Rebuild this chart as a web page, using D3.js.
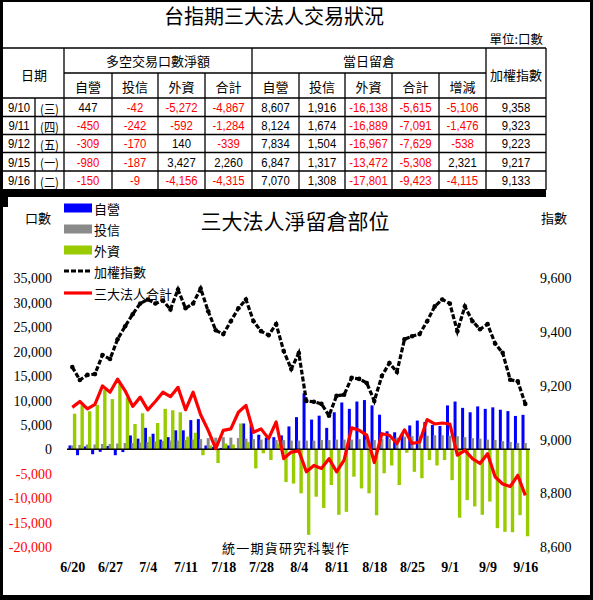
<!DOCTYPE html>
<html><head><meta charset="utf-8">
<script src="https://cdn.jsdelivr.net/npm/d3@7"></script>
<style>body{margin:0;background:#fff}svg{display:block}</style>
</head><body>
<svg id="c" width="593" height="600"></svg>
<script>
// ---------- DATA ----------
const dates = ["6/20","6/23","6/24","6/25","6/26","6/27","6/30","7/1","7/2","7/3","7/4","7/7","7/8","7/9","7/10","7/11","7/14","7/15","7/16","7/17","7/18","7/21","7/22","7/24","7/25","7/28","7/29","7/30","7/31","8/1","8/4","8/5","8/6","8/7","8/8","8/11","8/12","8/13","8/14","8/15","8/18","8/19","8/20","8/21","8/22","8/25","8/26","8/27","8/28","8/29","9/1","9/2","9/3","9/4","9/5","9/9","9/10","9/11","9/12","9/15","9/16"];
const tickLabels = ["6/20","6/27","7/4","7/11","7/18","7/28","8/4","8/11","8/18","8/25","9/1","9/9","9/16"];
// 自營
const dealer = [800,-1200,600,-1000,-500,700,-1200,-550,2850,2200,4400,3200,2000,2500,3900,3900,6000,6200,800,500,300,800,200,5300,5000,3000,2400,2500,2850,4700,6600,11500,6100,6900,4400,7600,9600,8300,9800,10100,9000,7100,3700,3500,3200,4900,5900,5600,5000,4800,9000,9800,8500,7600,8800,8300,8607,8124,7834,6847,7070];
// 投信
const trust = [800,900,1000,1000,1100,1100,1200,1300,1300,1400,1500,1600,1700,1800,1800,1900,2000,2100,2300,2400,2500,2400,2300,2200,2100,2000,2000,1900,1900,1800,1800,1800,1800,1900,1900,2000,2000,2000,2100,2000,1900,2100,2200,2400,2600,2700,2800,2800,2900,2900,2800,2700,2500,2300,2200,2000,1916,1674,1504,1317,1308];
// 外資
const foreign = [7300,9000,7800,9100,12200,10300,13500,10600,5200,7400,2600,5400,8300,8000,7600,2600,3400,-1200,800,-2800,1200,1000,5300,1500,-3900,-800,-2200,1200,-6700,-7000,-9000,-17500,-9700,-12000,-7300,-13400,-12800,-5600,-8000,-9000,-13500,-4900,-3300,-7300,-700,-4600,-5900,-2200,-3300,-2200,-6300,-14000,-10400,-11700,-13400,-10700,-16138,-16889,-16967,-13472,-17801];
// 三大法人合計
const total = [8600,9800,8300,9200,13000,11700,14400,12000,8800,10700,8100,9800,11700,10800,12700,8100,11700,7100,3900,150,3900,4200,7600,9000,3500,4200,2200,5600,-1900,-550,-300,-4600,-3300,-3900,-1900,-4600,-2200,4400,3900,2900,-2700,3200,2900,1200,4000,1200,1500,6100,5200,5400,5200,-1200,-200,-1900,-2900,-900,-5615,-7091,-7629,-5308,-9423];
// 加權指數
const taiex = [9270,9222,9241,9244,9315,9300,9374,9422,9467,9507,9522,9507,9518,9485,9559,9489,9507,9563,9478,9407,9393,9441,9489,9522,9441,9404,9389,9430,9330,9263,9322,9144,9141,9133,9089,9163,9167,9230,9226,9211,9144,9237,9285,9252,9374,9385,9393,9441,9496,9522,9507,9404,9496,9441,9411,9430,9358,9323,9223,9217,9133];
const leftTicks = [35000,30000,25000,20000,15000,10000,5000,0,-5000,-10000,-15000,-20000];
const rightTicks = [9600,9400,9200,9000,8800,8600];

// table
const tDates = ["9/10","9/11","9/12","9/15","9/16"];
const tWeek = ["(三)","(四)","(五)","(一)","(二)"];
const netDealer = [447,-450,-309,-980,-150];
const netTrust = [-42,-242,-170,-187,-9];
const netForeign = [-5272,-592,140,3427,-4156];
const netTotal = [-4867,-1284,-339,2260,-4315];
const oiDealer = [8607,8124,7834,6847,7070];
const oiTrust = [1916,1674,1504,1317,1308];
const oiForeign = [-16138,-16889,-16967,-13472,-17801];
const oiTotal = [-5615,-7091,-7629,-5308,-9423];
const oiChange = [-5106,-1476,-538,2321,-4115];
const tIndex = [9358,9323,9223,9217,9133];
const subHeads = ["自營","投信","外資","合計","自營","投信","外資","合計","增減"];

// ---------- DRAW ----------
const svg = d3.select("#c");
const CJK = "'Noto Sans CJK TC','Noto Sans CJK SC',sans-serif";
const NUM = "'Liberation Sans','Arial',sans-serif";
const SERIF = "'Liberation Serif','Times New Roman',serif";
const fmt = d => d3.format(",")(d).replace("\u2212","-");

svg.append("rect").attr("width",593).attr("height",600).attr("fill","#fff");

// ---- table ----
const T = svg.append("g");
T.append("text").attr("x",274).attr("y",24).attr("text-anchor","middle")
  .attr("font-family",CJK).attr("font-size",20).text("台指期三大法人交易狀況");
T.append("text").attr("x",543).attr("y",44).attr("text-anchor","end")
  .attr("font-family",CJK).attr("font-size",12.5).text("單位:口數");

const cx = [3,35,64,112,158,205,252,299,345,392,439,486,546];
const ry = [98,116.5,134.5,152.5,171,189.5];
const line = (x1,y1,x2,y2,w=1.3) => T.append("line").attr("x1",x1).attr("y1",y1).attr("x2",x2).attr("y2",y2)
  .attr("stroke","#000").attr("stroke-width",w);
line(3,48,546,48);
line(64,73,486,73);
line(3,98,546,98);
ry.slice(1,-1).forEach(y=>line(3,y,546,y));
[64,252,486,546].forEach(x=>line(x,48,x,190));
[112,158,205,299,345,392,439].forEach(x=>line(x,73,x,190));
line(35,98,35,190);

const ht = (x,y,t) => T.append("text").attr("x",x).attr("y",y).attr("text-anchor","middle")
  .attr("dominant-baseline","central").attr("font-family",CJK).attr("font-size",13).text(t);
ht(34,74,"日期");
ht(158,60,"多空交易口數淨額");
ht(369,60,"當日留倉");
ht(516,74,"加權指數");
subHeads.forEach((h,i)=>ht((cx[i+2]+cx[i+3])/2,86,h));

const numText = (xp,yp,t,color) => T.append("g").attr("transform",`translate(${xp},${yp}) scale(0.84,1)`)
  .append("text").attr("text-anchor","middle").attr("dominant-baseline","central")
  .attr("font-family",NUM).attr("font-size",13.5).attr("fill",color).text(t);

const cols = [netDealer,netTrust,netForeign,netTotal,oiDealer,oiTrust,oiForeign,oiTotal,oiChange,tIndex];
tDates.forEach((d,r)=>{
  const yc = (ry[r]+ry[r+1])/2 + 0.5;
  numText(19,yc,d,"#000");
  T.append("g").attr("transform",`translate(49.5,${yc}) scale(0.9,1)`).append("text")
    .attr("text-anchor","middle").attr("dominant-baseline","central")
    .attr("font-family",CJK).attr("font-size",12.5).text(tWeek[r]);
  cols.forEach((arr,c)=>{
    const v = arr[r];
    numText((cx[c+2]+cx[c+3])/2, yc, fmt(v), v<0 ? "#ff0000" : "#000");
  });
});

// ---- chart ----
const x = d3.scalePoint().domain(dates).range([72.3,525.3]);
const yL = d3.scaleLinear().domain([-20000,35000]).range([547,278.5]);
const yR = d3.scaleLinear().domain([8600,9600]).range([547,278.5]);
const C = svg.append("g");

C.append("text").attr("x",295).attr("y",229).attr("text-anchor","middle")
  .attr("font-family",CJK).attr("font-size",21).text("三大法人淨留倉部位");
C.append("text").attr("x",38).attr("y",223).attr("text-anchor","middle")
  .attr("font-family",CJK).attr("font-size",13).text("口數");
C.append("text").attr("x",554).attr("y",223).attr("text-anchor","middle")
  .attr("font-family",CJK).attr("font-size",13).text("指數");
C.append("text").attr("x",286).attr("y",553).attr("text-anchor","middle")
  .attr("font-family",CJK).attr("font-size",13).attr("letter-spacing",1.2).text("統一期貨研究科製作");

// bars
const series = [
  {vals:dealer, color:"#0000ff", off:-2.3, w:3},
  {vals:trust, color:"#8a8a8a", off:0, w:3},
  {vals:foreign, color:"#99cc00", off:2.3, w:3.4}
];
series.forEach(s=>{
  C.append("g").selectAll("rect").data(dates).join("rect")
    .attr("x",(d)=>x(d)+s.off-s.w/2)
    .attr("width",s.w)
    .attr("y",(d,i)=>Math.min(yL(s.vals[i]),yL(0)))
    .attr("height",(d,i)=>Math.abs(yL(s.vals[i])-yL(0)))
    .attr("fill",s.color);
});
// zero line
C.append("line").attr("x1",67).attr("x2",530).attr("y1",yL(0)).attr("y2",yL(0))
  .attr("stroke","#000").attr("stroke-width",1.5);

// index line
const lineR = d3.line().x((d,i)=>x(dates[i])).y(d=>yR(d));
C.append("path").datum(taiex).attr("d",lineR).attr("fill","none").attr("stroke","#000")
  .attr("stroke-width",3.2).attr("stroke-dasharray","5,2");
C.append("g").selectAll("circle").data(taiex).join("circle")
  .attr("cx",(d,i)=>x(dates[i])).attr("cy",d=>yR(d)).attr("r",2.3).attr("fill","#000");

// total line
const lineL = d3.line().x((d,i)=>x(dates[i])).y(d=>yL(d));
C.append("path").datum(total).attr("d",lineL).attr("fill","none").attr("stroke","#ff0000")
  .attr("stroke-width",3.2).attr("stroke-linejoin","round");

// axes
const ax = C.append("g").attr("transform","translate(55,0)")
  .call(d3.axisLeft(yL).tickValues(leftTicks).tickSize(0).tickPadding(3).tickFormat(fmt));
ax.select(".domain").remove();
ax.selectAll("text").attr("font-family",SERIF).attr("font-size",14)
  .attr("fill",d=>d<0?"#ff0000":"#000");

const axR = C.append("g").attr("transform","translate(537,0)")
  .call(d3.axisRight(yR).tickValues(rightTicks).tickSize(0).tickPadding(3).tickFormat(fmt));
axR.select(".domain").remove();
axR.selectAll("text").attr("font-family",SERIF).attr("font-size",14).attr("fill","#000");

const axX = C.append("g").attr("transform","translate(0,562)")
  .call(d3.axisBottom(x).tickValues(tickLabels).tickSize(0).tickPadding(0));
axX.select(".domain").remove();
axX.selectAll("text").attr("font-family",SERIF).attr("font-size",14).attr("font-weight","bold").attr("fill","#000");

// legend
const lg = C.append("g");
const legItems = ["自營","投信","外資","加權指數","三大法人合計"];
const legY = [208,229,250,271,293];
[0,1,2].forEach(i=>{
  lg.append("rect").attr("x",64).attr("y",legY[i]-4.5).attr("width",28).attr("height",9).attr("fill",series[i].color);
});
lg.append("line").attr("x1",64).attr("x2",92).attr("y1",legY[3]).attr("y2",legY[3])
  .attr("stroke","#000").attr("stroke-width",3.2).attr("stroke-dasharray","5,2");
lg.append("line").attr("x1",64).attr("x2",92).attr("y1",legY[4]).attr("y2",legY[4])
  .attr("stroke","#ff0000").attr("stroke-width",3.2);
legItems.forEach((t,i)=>{
  lg.append("text").attr("x",94).attr("y",legY[i]).attr("dominant-baseline","central")
    .attr("font-family",CJK).attr("font-size",13).text(t);
});

// frame
const F = svg.append("g").attr("fill","#000");
F.append("rect").attr("x",0).attr("y",0).attr("width",593).attr("height",2);
F.append("rect").attr("x",0).attr("y",0).attr("width",3).attr("height",600);
F.append("rect").attr("x",590).attr("y",0).attr("width",3).attr("height",600);
F.append("rect").attr("x",0).attr("y",595).attr("width",593).attr("height",5);
F.append("rect").attr("x",0).attr("y",189).attr("width",546).attr("height",8);
F.append("rect").attr("x",0).attr("y",189).attr("width",8).attr("height",18);
</script>
</body></html>
